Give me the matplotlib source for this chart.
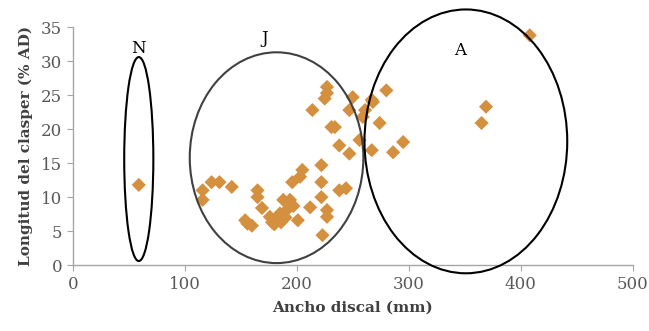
import matplotlib
matplotlib.use("Agg")
import matplotlib.pyplot as plt
from matplotlib.patches import Ellipse

# Ancho discal (mm) y longitud del clasper (% AD)
ancho = [59, 116, 124, 131, 142, 116, 165, 165, 154, 156, 169, 176, 182, 185,
         188, 194, 191, 196, 201, 205, 203, 212, 222, 222, 222, 227, 227, 223,
         238, 244, 214, 225, 227, 227, 231, 234, 238, 247, 250, 247, 256, 261,
         267, 267, 274, 280, 286, 259, 268, 295, 369, 365, 408, 160, 180, 186,
         178, 190, 197]
clasper = [11.8, 11.0, 12.2, 12.2, 11.5, 9.6, 11.0, 10.0, 6.6, 6.1, 8.4, 7.1, 6.6, 7.6,
           9.6, 9.6, 8.1, 12.2, 6.6, 14.0, 13.0, 8.5, 14.7, 12.2, 10.0, 8.1, 7.1, 4.4,
           11.0, 11.3, 22.8, 24.5, 26.2, 25.3, 20.3, 20.3, 17.6, 16.4, 24.7, 22.8, 18.4, 22.8,
           24.3, 16.9, 20.9, 25.7, 16.6, 21.8, 24.0, 18.1, 23.3, 20.9, 33.8, 5.8, 6.0, 6.3,
           6.3, 7.0, 8.7]

# grupos: (centro x, centro y, ancho, alto, etiqueta, x etiqueta, y etiqueta, color)
grupos = [
    (59, 15.6, 26, 30, "N", 59, 31.9, "black"),
    (182, 15.8, 155, 31, "J", 171, 33.4, "#404040"),
    (351, 18.2, 181, 38.8, "A", 346, 31.6, "black"),
]

fig = plt.figure(figsize=(6.49, 3.31), dpi=100)
ax = fig.add_axes([0.112, 0.199, 0.863, 0.719])

ax.scatter(ancho, clasper, marker="D", s=52, color="#D4903E", edgecolors="none", zorder=3)

for cx, cy, w, h, etiqueta, lx, ly, col in grupos:
    ax.add_patch(Ellipse((cx, cy), w, h, fill=False, edgecolor=col, lw=1.5,
                         clip_on=False, zorder=4))
    ax.text(lx, ly, etiqueta, ha="center", va="center", fontsize=12,
            fontname="DejaVu Serif", color="black")

ax.set_xlim(0, 500)
ax.set_ylim(0, 35)
ax.set_xticks([0, 100, 200, 300, 400, 500])
ax.set_yticks([0, 5, 10, 15, 20, 25, 30, 35])

for lado in ["top", "right"]:
    ax.spines[lado].set_visible(False)
for lado in ["left", "bottom"]:
    ax.spines[lado].set_color("#A6A6A6")
    ax.spines[lado].set_linewidth(1.0)

ax.tick_params(axis="both", direction="out", length=4, color="#A6A6A6",
               labelsize=12, labelcolor="#595959")
for lab in ax.get_xticklabels() + ax.get_yticklabels():
    lab.set_fontname("DejaVu Serif")

ax.set_xlabel("Ancho discal (mm)", fontsize=11, fontname="DejaVu Serif",
              color="#404040", fontweight="bold", labelpad=6)
ax.set_ylabel("Longitud del clasper (% AD)", fontsize=11, fontname="DejaVu Serif",
              color="#404040", fontweight="bold", labelpad=6)

plt.savefig("out.png", dpi=100)
